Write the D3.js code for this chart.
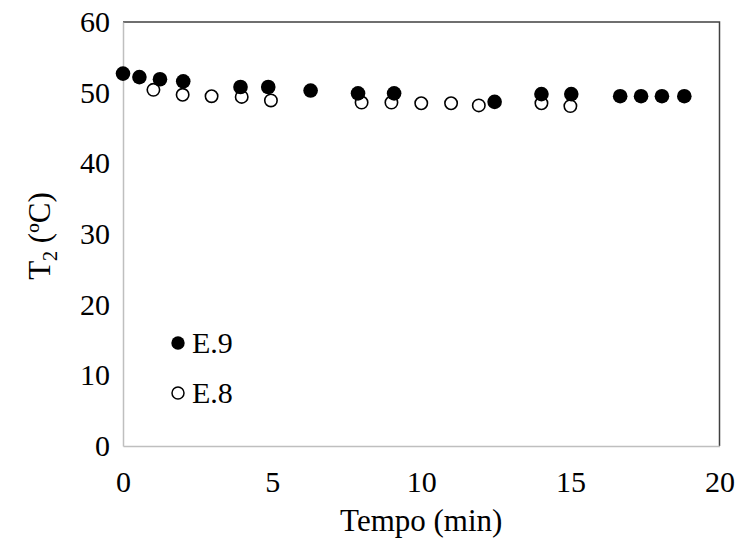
<!DOCTYPE html>
<html>
<head>
<meta charset="utf-8">
<script src="https://cdn.jsdelivr.net/npm/d3@7"></script>
<style>
  body { margin: 0; background: #fff; }
</style>
</head>
<body>
<svg id="chart" width="739" height="545"></svg>
<script>
// Data
const e9Time = [0.0, 0.55, 1.24, 2.02, 3.94, 4.87, 6.29, 7.88, 9.09, 12.46, 14.03, 15.03, 16.67, 17.37, 18.07, 18.82];
const e9Temp = [52.7, 52.2, 51.9, 51.6, 50.8, 50.8, 50.3, 49.9, 49.9, 48.7, 49.8, 49.8, 49.5, 49.5, 49.5, 49.5];
const e8Time = [1.02, 2.0, 2.97, 3.98, 4.96, 8.0, 9.0, 10.0, 11.0, 11.93, 14.03, 15.0];
const e8Temp = [50.4, 49.7, 49.5, 49.4, 48.9, 48.6, 48.6, 48.5, 48.5, 48.2, 48.5, 48.1];
const xTicks = [0, 5, 10, 15, 20];
const yTicks = [0, 10, 20, 30, 40, 50, 60];
const seriesNames = ["E.9", "E.8"];

const FONT = "'Liberation Serif', 'Times New Roman', Times, serif";
const svg = d3.select("#chart").style("font-family", FONT);
const L = 123, R = 719.5, T = 22, B = 446;
const x = d3.scaleLinear().domain([0, 20]).range([L, R]);
const y = d3.scaleLinear().domain([0, 60]).range([B, T]);
const fs = 30, fsTitle = 31;

// plot frame (top/right dark)
svg.append("path")
  .attr("d", `M${L},${T}H${R}V${B}`)
  .attr("fill", "none").attr("stroke", "#404040").attr("stroke-width", 1.5);

function styleText(sel, size) {
  sel.style("font-family", FONT).style("font-size", (size || fs) + "px").style("fill", "#000");
}

// axes
const xAxis = d3.axisBottom(x).tickValues(xTicks).tickSize(0).tickPadding(25);
const gx = svg.append("g").attr("transform", `translate(0,${B})`).call(xAxis)
  .attr("font-family", null).attr("font-size", null);
gx.select(".domain").attr("stroke", "#bfbfbf").attr("stroke-width", 1.5);
styleText(gx.selectAll("text"));

const yAxis = d3.axisLeft(y).tickValues(yTicks).tickSize(0).tickPadding(13);
const gy = svg.append("g").attr("transform", `translate(${L},0)`).call(yAxis)
  .attr("font-family", null).attr("font-size", null);
gy.select(".domain").attr("stroke", "#bfbfbf").attr("stroke-width", 1.5);
styleText(gy.selectAll("text"));

// axis titles
styleText(svg.append("text").attr("x", (L + R) / 2).attr("y", 531)
  .attr("text-anchor", "middle").text("Tempo (min)"), fsTitle);

const yt = svg.append("text")
  .attr("transform", `translate(50,${(T + B) / 2 + 2}) rotate(-90)`)
  .attr("text-anchor", "middle");
styleText(yt, fsTitle);
yt.append("tspan").text("T");
yt.append("tspan").attr("dy", 7).style("font-size", "20px").text("2");
yt.append("tspan").attr("dy", -7).text(" (ºC)");

// points
const e8 = e8Time.map((t, i) => ({ t, v: e8Temp[i] }));
const e9 = e9Time.map((t, i) => ({ t, v: e9Temp[i] }));

svg.append("g").selectAll("circle").data(e8).join("circle")
  .attr("cx", d => x(d.t)).attr("cy", d => y(d.v)).attr("r", 6.2)
  .attr("fill", "#fff").attr("stroke", "#000").attr("stroke-width", 1.6);

svg.append("g").selectAll("circle").data(e9).join("circle")
  .attr("cx", d => x(d.t)).attr("cy", d => y(d.v)).attr("r", 7.3)
  .attr("fill", "#000");

// legend
const leg = svg.append("g");
const legY = [343, 393];
seriesNames.forEach((name, i) => {
  const c = leg.append("circle").attr("cx", 178).attr("cy", legY[i]);
  if (i === 0) c.attr("r", 6.7).attr("fill", "#000");
  else c.attr("r", 6).attr("fill", "#fff").attr("stroke", "#000").attr("stroke-width", 1.5);
  styleText(leg.append("text").attr("x", 192).attr("y", legY[i] + 10).text(name));
});
</script>
</body>
</html>
